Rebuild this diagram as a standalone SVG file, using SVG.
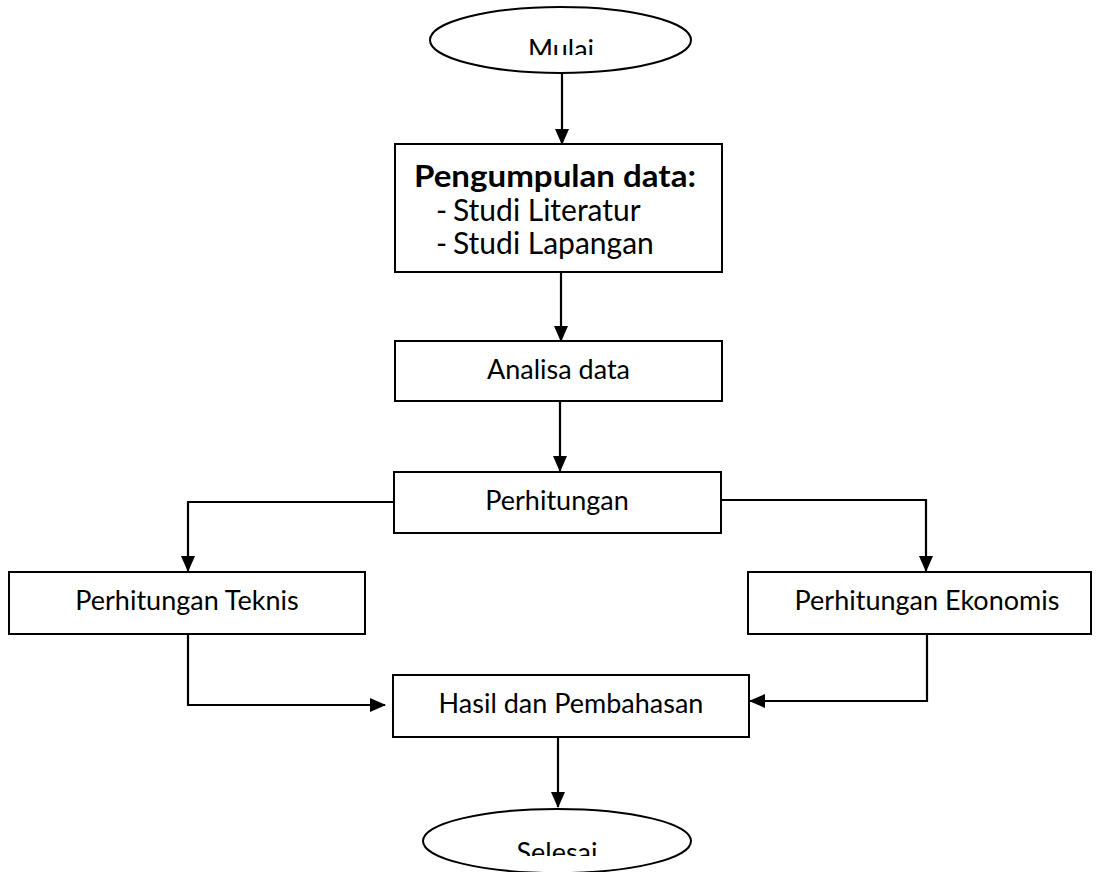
<svg xmlns="http://www.w3.org/2000/svg" width="1097" height="872" viewBox="0 0 1097 872">
<style>
.box{fill:#fff;stroke:#000;stroke-width:2}
.lbl{font-family:Lato,"Open Sans","Liberation Sans",sans-serif;font-size:27px;fill:#000}
.big{font-size:30px}
.c{text-anchor:middle}
.b{font-weight:bold}
.ln{fill:none;stroke:#000;stroke-width:2.2}
</style>
<defs>
<marker id="ah" markerUnits="userSpaceOnUse" markerWidth="16" markerHeight="14" viewBox="0 0 16 14" refX="15" refY="7" orient="auto">
<path d="M0,0 L16,7 L0,14 Z" fill="#000"/>
</marker>
<clipPath id="clipMulai"><rect x="0" y="0" width="1097" height="55"/></clipPath>
<clipPath id="clipSelesai"><rect x="0" y="0" width="1097" height="856"/></clipPath>
</defs>
<g id="connectors">
<line class="ln" x1="562" y1="74" x2="562" y2="144" marker-end="url(#ah)"/>
<line class="ln" x1="561" y1="273" x2="561" y2="341" marker-end="url(#ah)"/>
<line class="ln" x1="560" y1="402" x2="560" y2="471" marker-end="url(#ah)"/>
<polyline class="ln" points="394,502 188,502 188,571" marker-end="url(#ah)"/>
<polyline class="ln" points="721,500 926,500 926,571" marker-end="url(#ah)"/>
<polyline class="ln" points="188,635 188,705 385,705" marker-end="url(#ah)"/>
<polyline class="ln" points="927,635 927,701 750,701" marker-end="url(#ah)"/>
<line class="ln" x1="558" y1="738" x2="558" y2="807" marker-end="url(#ah)"/>
</g>
<g id="mulai">
<ellipse class="box" cx="560.5" cy="40" rx="130.5" ry="33"/>
<text class="lbl c" x="561" y="59" clip-path="url(#clipMulai)">Mulai</text>
</g>
<g id="pengumpulan">
<rect class="box" x="395" y="144" width="327" height="128"/>
<text class="lbl big b" x="414" y="187" textLength="282" lengthAdjust="spacingAndGlyphs">Pengumpulan data:</text>
<text class="lbl big" y="221"><tspan x="436">- </tspan><tspan x="453">Studi Literatur</tspan></text>
<text class="lbl big" y="254"><tspan x="436">- </tspan><tspan x="453">Studi Lapangan</tspan></text>
</g>
<g id="analisa">
<rect class="box" x="395" y="341" width="327" height="60"/>
<text class="lbl c" x="558.5" y="379">Analisa data</text>
</g>
<g id="perhitungan">
<rect class="box" x="394" y="472" width="327" height="61"/>
<text class="lbl c" x="557" y="510">Perhitungan</text>
</g>
<g id="teknis">
<rect class="box" x="9" y="572" width="356" height="62"/>
<text class="lbl c" x="187" y="610">Perhitungan Teknis</text>
</g>
<g id="ekonomis">
<rect class="box" x="748" y="572" width="343" height="62"/>
<text class="lbl c" x="927" y="610">Perhitungan Ekonomis</text>
</g>
<g id="hasil">
<rect class="box" x="393" y="675" width="356" height="62"/>
<text class="lbl c" x="571" y="713">Hasil dan Pembahasan</text>
</g>
<g id="selesai">
<ellipse class="box" cx="557" cy="841" rx="134" ry="32"/>
<text class="lbl c" x="557" y="862" clip-path="url(#clipSelesai)">Selesai</text>
</g>
</svg>
